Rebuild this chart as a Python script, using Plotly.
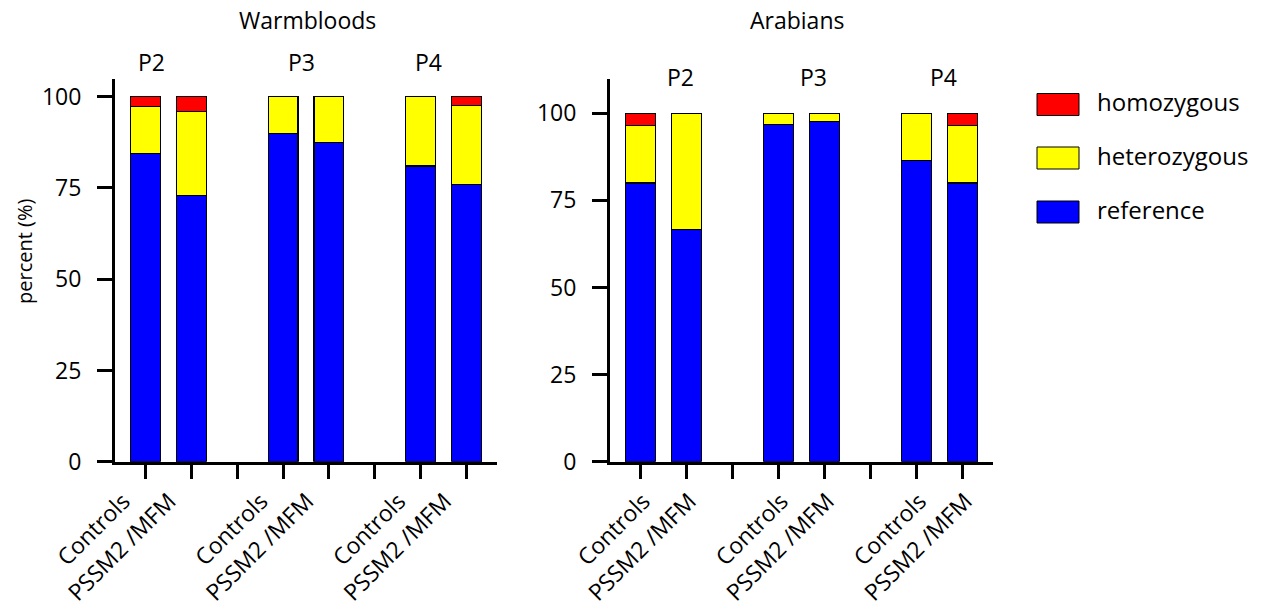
import plotly.graph_objects as go

# ---- data ----
tick_labels = ["Controls", "PSSM2 /MFM", "", "Controls", "PSSM2 /MFM", "", "Controls", "PSSM2 /MFM"]
bar_positions = [0, 1, 3, 4, 6, 7]
groups = ["P2", "P3", "P4"]

wb_reference = [84.5, 73.0, 90.0, 87.5, 81.0, 76.0]
wb_heterozygous = [12.8, 23.0, 10.0, 12.5, 19.0, 21.5]
wb_homozygous = [2.7, 4.0, 0.0, 0.0, 0.0, 2.5]

ar_reference = [80.0, 66.7, 96.7, 97.6, 86.5, 80.0]
ar_heterozygous = [16.5, 33.3, 3.3, 2.4, 13.5, 16.4]
ar_homozygous = [3.5, 0.0, 0.0, 0.0, 0.0, 3.6]

series_names = ["reference", "heterozygous", "homozygous"]
series_colors = ["#0000FF", "#FFFF00", "#FF0000"]

W, H = 1267, 612
FONT = "Open Sans"
FS = 23

fig = go.Figure()

panels = [
    ("x", "y", [wb_reference, wb_heterozygous, wb_homozygous]),
    ("x2", "y2", [ar_reference, ar_heterozygous, ar_homozygous]),
]
for xa, ya, data in panels:
    for name, color, vals in zip(series_names, series_colors, data):
        fig.add_trace(go.Bar(
            x=bar_positions, y=vals, name=name, xaxis=xa, yaxis=ya,
            marker=dict(color=color, line=dict(color="black", width=1.2)),
            width=0.65, showlegend=False, hoverinfo="skip",
        ))

def px_x(p):
    return p / W

def px_y(p):
    return 1 - p / H

ydom = [px_y(461.7), px_y(78.5)]
xaxis_common = dict(
    range=[-0.66, 7.66], tickmode="array", tickvals=list(range(8)), ticktext=tick_labels,
    tickangle=-45, ticks="outside", ticklen=14, tickwidth=3, tickcolor="black",
    showline=True, linewidth=3, linecolor="black", showgrid=False, zeroline=False,
    tickfont=dict(family=FONT, size=FS, color="black"), fixedrange=True, automargin=False,
)
yaxis_common = dict(
    ticks="outside", ticklen=15, tickwidth=3, tickcolor="black",
    showline=True, linewidth=3, linecolor="black", showgrid=False, zeroline=False,
    tickvals=[0, 25, 50, 75, 100], tickfont=dict(family=FONT, size=FS, color="black"),
    domain=ydom, fixedrange=True, automargin=False, ticklabelstandoff=11,
)

fig.update_layout(
    width=W, height=H, margin=dict(l=0, r=0, t=0, b=0, autoexpand=False),
    paper_bgcolor="white", plot_bgcolor="white", barmode="stack",
    font=dict(family=FONT, size=FS, color="black"),
    xaxis=dict(domain=[px_x(115), px_x(497)], anchor="y", ticklabelshift=-22, **xaxis_common),
    xaxis2=dict(domain=[px_x(610), px_x(993)], anchor="y2", ticklabelshift=3, **xaxis_common),
    yaxis=dict(range=[0, 105], anchor="x", **yaxis_common),
    yaxis2=dict(range=[0, 110], anchor="x2", **yaxis_common),
    showlegend=False,
)

# extension of x axis lines to the left of y axes (Prism style)
for xa, ya in [("x", "y"), ("x2", "y2")]:
    fig.add_shape(type="line", xref=f"{xa} domain", yref=ya, x0=-0.042, x1=0, y0=0, y1=0,
                  line=dict(color="black", width=3))

# y axis title
fig.add_annotation(text="percent (%)", x=px_x(24), y=px_y(252), xref="paper", yref="paper",
                   textangle=-90, showarrow=False, xanchor="center", yanchor="middle",
                   font=dict(family=FONT, size=20))

# panel titles
fig.add_annotation(text="Warmbloods", x=px_x(307), y=px_y(20), xref="paper", yref="paper",
                   showarrow=False, xanchor="center", yanchor="middle", font=dict(family=FONT, size=FS))
fig.add_annotation(text="Arabians", x=px_x(797), y=px_y(20), xref="paper", yref="paper",
                   showarrow=False, xanchor="center", yanchor="middle", font=dict(family=FONT, size=FS))

# group labels
wb_group_x = [0.13, 3.40, 6.16]
ar_group_x = [0.87, 3.77, 6.59]
for g, gx in zip(groups, wb_group_x):
    fig.add_annotation(text=g, x=gx, y=px_y(62), xref="x", yref="paper", xanchor="center",
                       yanchor="middle", showarrow=False, font=dict(family=FONT, size=FS))
for g, gx in zip(groups, ar_group_x):
    fig.add_annotation(text=g, x=gx, y=px_y(77), xref="x2", yref="paper", xanchor="center",
                       yanchor="middle", showarrow=False, font=dict(family=FONT, size=FS))

# manual legend
legend_items = [("homozygous", "#FF0000", 104.5), ("heterozygous", "#FFFF00", 158), ("reference", "#0000FF", 212)]
for name, color, cy in legend_items:
    fig.add_shape(type="rect", xref="paper", yref="paper",
                  x0=px_x(1037), x1=px_x(1079), y0=px_y(cy - 11), y1=px_y(cy + 11),
                  fillcolor=color, line=dict(color="black", width=1))
    fig.add_annotation(text=name, x=px_x(1095), y=px_y(cy - 3), xref="paper", yref="paper",
                       xanchor="left", yanchor="middle", showarrow=False, font=dict(family=FONT, size=24))

fig.write_html("out.html", config={"displayModeBar": False},
               post_script="document.body.style.margin='0';")
